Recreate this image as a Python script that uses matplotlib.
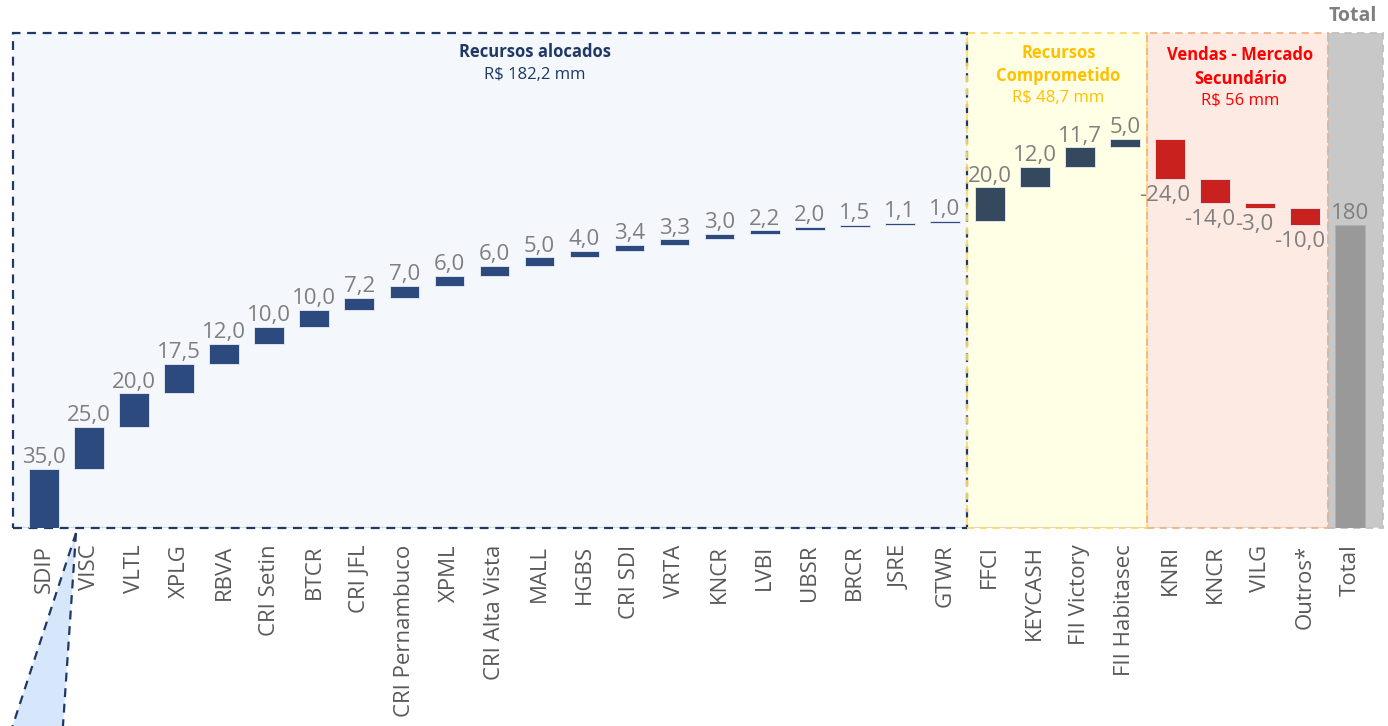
import numpy as np
import matplotlib
matplotlib.use("Agg")
import matplotlib.pyplot as plt
from matplotlib.patches import Rectangle, Polygon
from matplotlib.lines import Line2D

plt.rcParams['font.family'] = ['Open Sans', 'DejaVu Sans']

alocados = ["SDIP", "VISC", "VLTL", "XPLG", "RBVA", "CRI Setin", "BTCR", "CRI JFL",
            "CRI Pernambuco", "XPML", "CRI Alta Vista", "MALL", "HGBS", "CRI SDI",
            "VRTA", "KNCR", "LVBI", "UBSR", "BRCR", "JSRE", "GTWR"]
alocados_val = [35.0, 25.0, 20.0, 17.5, 12.0, 10.0, 10.0, 7.2, 7.0, 6.0, 6.0, 5.0,
                4.0, 3.4, 3.3, 3.0, 2.2, 2.0, 1.5, 1.1, 1.0]
comprometido = ["FFCI", "KEYCASH", "FII Victory", "FII Habitasec"]
comprometido_val = [20.0, 12.0, 11.7, 5.0]
vendas = ["KNRI", "KNCR", "VILG", "Outros*"]
vendas_val = [-24.0, -14.0, -3.0, -10.0]
total_label = "Total"
total_val = 180

labels = alocados + comprometido + vendas + [total_label]
values = alocados_val + comprometido_val + vendas_val
colors = (["#2C4A7E"] * len(alocados) + ["#34495E"] * len(comprometido)
          + ["#C9211E"] * len(vendas))

fig = plt.figure(figsize=(13.88, 7.26), dpi=100)
ax = fig.add_axes([13 / 1388, (726 - 528) / 726, 1370 / 1388, (528 - 33) / 726])
ymax = 293.8
x0, x1 = -0.69, 29.73
ax.set_xlim(x0, x1)
ax.set_ylim(0, ymax)

# section backgrounds
n1 = len(alocados)
n2 = n1 + len(comprometido)
n3 = n2 + len(vendas)
boxes = [
    (x0, n1 - 0.5, "#F4F8FD", "#1F3864", 1.6),
    (n1 - 0.5, n2 - 0.5, "#FFFFE6", "#FFD966", 1.3),
    (n2 - 0.5, n3 - 0.5, "#FDEBE3", "#F4B183", 1.3),
    (n3 - 0.5, x1, "#C8C8C8", "#BFBFBF", 1.3),
]
for a, b, fc, ec, lw in boxes:
    ax.add_patch(Rectangle((a, 0), b - a, ymax, facecolor=fc, edgecolor="none", zorder=0))
for a, b, fc, ec, lw in boxes:
    ax.add_patch(Rectangle((a, 0), b - a, ymax, facecolor="none", edgecolor=ec,
                           lw=lw, ls=(0, (4, 3)), zorder=1, clip_on=False))

# waterfall bars
cum = 0.0
for i, v in enumerate(values):
    bottom = cum if v >= 0 else cum + v
    ax.bar(i, abs(v), bottom=bottom, width=0.66, color=colors[i],
           edgecolor="#E8ECF4", lw=0.6, zorder=3)
    txt = f"{v:.1f}".replace(".", ",")
    if v >= 0:
        ax.text(i, cum + v + 0.4, txt, ha="center", va="bottom", fontsize=16,
                color="#7F7F7F", zorder=4)
    else:
        ax.text(i - 0.12, cum + v - 3.5, txt, ha="center", va="top", fontsize=16,
                color="#7F7F7F", zorder=4)
    cum += v

it = len(values)
ax.bar(it, total_val, width=0.66, color="#999999", edgecolor="#B0B0B0", lw=0.6, zorder=3)
ax.text(it, total_val + 0.4, str(total_val), ha="center", va="bottom", fontsize=16,
        color="#7F7F7F", zorder=4)

# headers
ax.text(10.9, 282.5, "Recursos alocados", ha="center", va="center", fontsize=12,
        fontweight="bold", color="#1F3864")
ax.text(10.9, 269, "R$ 182,2 mm", ha="center", va="center", fontsize=12,
        color="#1F3864")
ax.text(22.52, 282, "Recursos", ha="center", va="center", fontsize=12,
        fontweight="bold", color="#FFC000")
ax.text(22.52, 268.5, "Comprometido", ha="center", va="center", fontsize=12,
        fontweight="bold", color="#FFC000")
ax.text(22.52, 255.5, "R$ 48,7 mm", ha="center", va="center", fontsize=12,
        color="#FFC000")
ax.text(26.56, 281, "Vendas - Mercado", ha="center", va="center", fontsize=12,
        fontweight="bold", color="#FF0000")
ax.text(26.56, 266.5, "Secundário", ha="center", va="center", fontsize=12,
        fontweight="bold", color="#FF0000")
ax.text(26.56, 253.5, "R$ 56 mm", ha="center", va="center", fontsize=12,
        color="#FF0000")
ax.text(29.05, 304, "Total", ha="center", va="center", fontsize=14,
        fontweight="bold", color="#7F7F7F", clip_on=False)

ax.set_xticks(range(len(labels)))
ax.set_xticklabels(labels, rotation=90, fontsize=16, color="#595959")
ax.tick_params(axis="x", length=0, pad=12)
ax.set_yticks([])
for s in ax.spines.values():
    s.set_visible(False)
ax.axhline(0, color="#D9D9D9", lw=1.5, zorder=0.5)

# callout triangle below the chart
def fx(px):
    return px / 1388

def fy(py):
    return 1 - py / 726

tri = Polygon([(fx(76), fy(533)), (fx(8), fy(740)), (fx(62), fy(740))],
              closed=True, transform=fig.transFigure, facecolor="#D6E6FB",
              edgecolor="none", zorder=0)
fig.patches.append(tri)
for bx in (8, 62):
    fig.lines.append(Line2D([fx(76), fx(bx)], [fy(533), fy(740)],
                            transform=fig.transFigure, color="#1F3864",
                            lw=1.6, ls=(0, (4, 3))))

fig.savefig("out.png", dpi=100)
